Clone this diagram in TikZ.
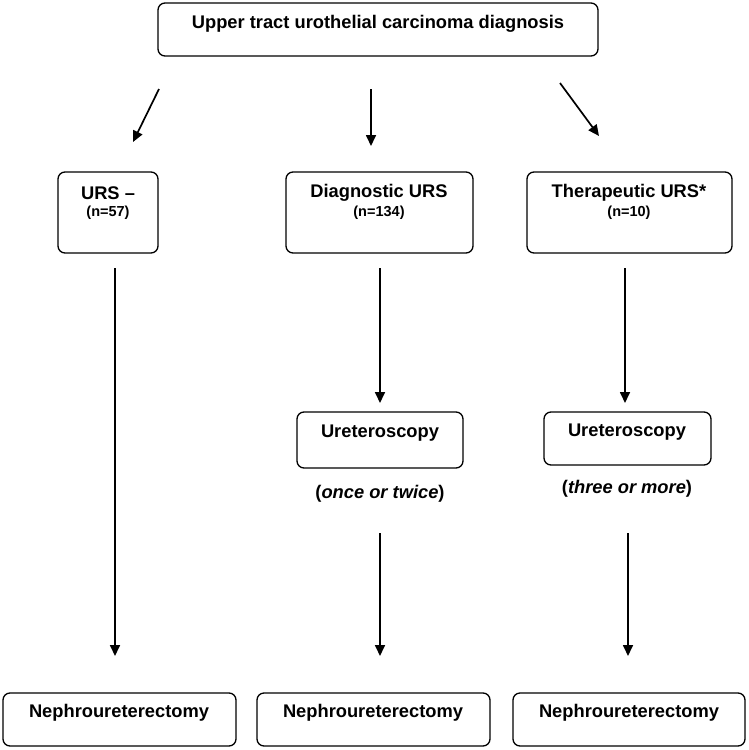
\documentclass[tikz,border=0pt]{standalone}
\usepackage{fontspec}
\setmainfont{Liberation Sans}
\usetikzlibrary{arrows.meta}
\begin{document}
\begin{tikzpicture}[x=1pt,y=-1pt,
  boxst/.style={draw=black,line width=1.3pt,rounded corners=7pt},
  txt/.style={inner sep=0pt,font=\fontsize{18.3}{20}\selectfont\bfseries},
  smalltxt/.style={inner sep=0pt,font=\fontsize{14.5}{16}\selectfont\bfseries},
  arr/.style={line width=1.7pt,-{Triangle[length=11pt,width=10pt]}}]
\useasboundingbox (0,0) rectangle (748,750);
% boxes
\draw[boxst] (158,3) rectangle (598,56);
\draw[boxst] (58,172) rectangle (158,253);
\draw[boxst] (286,172) rectangle (473,253);
\draw[boxst] (527,172) rectangle (732,253);
\draw[boxst] (297,412) rectangle (463,468);
\draw[boxst] (544,412) rectangle (711,465);
\draw[boxst] (3,693) rectangle (236,746);
\draw[boxst] (257,693) rectangle (490,746);
\draw[boxst] (513,693) rectangle (745,746);
% texts
\node[txt] (t0) at (378,24) {Upper tract urothelial carcinoma diagnosis};
\node[txt] (t1) at (108,193) {URS –};
\node[smalltxt] (n1) at (108,213) {(n=57)};
\node[txt] (t2) at (379,193) {Diagnostic URS};
\node[smalltxt] (n2) at (379,213) {(n=134)};
\node[txt] (t3) at (629,193) {Therapeutic URS*};
\node[smalltxt] (n3) at (629,213) {(n=10)};
\node[txt] (u1) at (380,433) {Ureteroscopy};
\node[txt] (c1) at (380,494) {(\textit{once or twice})};
\node[txt] (u2) at (627,432) {Ureteroscopy};
\node[txt] (c2) at (627,489) {(\textit{three or more})};
\node[txt] (b1) at (119,713) {Nephroureterectomy};
\node[txt] (b2) at (373,713) {Nephroureterectomy};
\node[txt] (b3) at (629,713) {Nephroureterectomy};
% arrow endpoints
\coordinate (a1s) at (159,89);  \coordinate (a1e) at (133,142);
\coordinate (a2s) at (371,89);  \coordinate (a2e) at (371,146);
\coordinate (a3s) at (560,83);  \coordinate (a3e) at (599,136);
\coordinate (a4s) at (115,268); \coordinate (a4e) at (115,656);
\coordinate (a5s) at (380,268); \coordinate (a5e) at (380,403);
\coordinate (a6s) at (380,533); \coordinate (a6e) at (380,656);
\coordinate (a7s) at (625,268); \coordinate (a7e) at (625,403);
\coordinate (a8s) at (628,533); \coordinate (a8e) at (628,656);
\draw[arr] (a1s) -- (a1e);
\draw[arr] (a2s) -- (a2e);
\draw[arr] (a3s) -- (a3e);
\draw[arr] (a4s) -- (a4e);
\draw[arr] (a5s) -- (a5e);
\draw[arr] (a6s) -- (a6e);
\draw[arr] (a7s) -- (a7e);
\draw[arr] (a8s) -- (a8e);
\end{tikzpicture}
\end{document}
